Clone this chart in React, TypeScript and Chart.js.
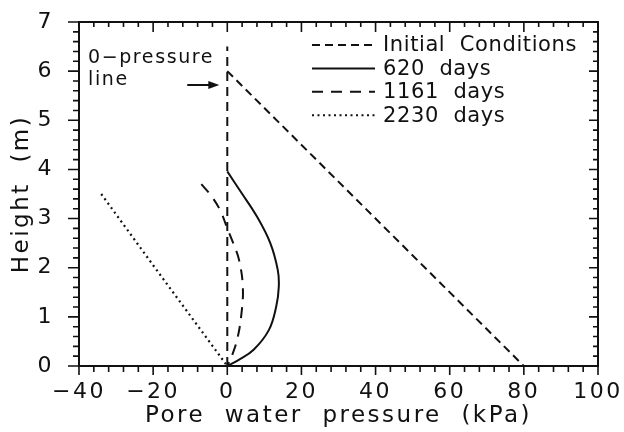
import React, { useEffect, useRef } from "react";
import { Chart, registerables } from "chart.js";

Chart.register(...registerables);

// ---- data ----
const seriesLabels = ["Initial Conditions", "620 days", "1161 days", "2230 days"];

const initialX = [0, 80, 0];
const initialY = [6, 0, 0];

const d620X = [0, 3.5, 8.0, 11.6, 13.6, 13.9, 13.2, 11.2, 7.1, 3.0, 0];
const d620Y = [3.96, 3.56, 3.04, 2.5, 1.96, 1.62, 1.21, 0.73, 0.33, 0.12, 0];

const d1161X = [-7, -4.2, -1.8, 0, 1.6, 3.2, 4.2, 3.8, 2.7, 1.2, 0];
const d1161Y = [3.7, 3.45, 3.15, 2.8, 2.5, 2.15, 1.6, 1.05, 0.55, 0.2, 0];

const d2230X = [-34, -20, 0];
const d2230Y = [3.5, 2.05, 0];

const zeroLineX = [0, 0];
const zeroLineY = [0, 6.5];

const xMin = -40, xMax = 100, xMajor = 20, xMinor = 4;
const yMin = 0, yMax = 7, yMajor = 1, yMinor = 0.2;

const FONT = "'DejaVu Sans', sans-serif";
const INK = "#111";

const pts = (xs: number[], ys: number[]) => xs.map((x, i) => ({ x, y: ys[i] }));

const dashes = [[8, 5], [], [11, 8], [2, 3.5]];

const framePlugin = {
  id: "frameTicks",
  beforeDraw(chart: any) {
    chart.ctx.letterSpacing = "2.5px";
  },
  afterDraw(chart: any) {
    const ctx = chart.ctx as CanvasRenderingContext2D;
    const { left, right, top, bottom } = chart.chartArea;
    const xs = chart.scales.x;
    const ys = chart.scales.y;
    ctx.save();
    (ctx as any).letterSpacing = "0px";
    ctx.strokeStyle = INK;
    ctx.lineWidth = 2;
    ctx.setLineDash([]);
    ctx.strokeRect(left, top, right - left, bottom - top);
    ctx.lineWidth = 1.6;
    ctx.beginPath();
    const nx = Math.round((xMax - xMin) / xMinor);
    for (let i = 0; i <= nx; i++) {
      const v = xMin + i * xMinor;
      const major = Math.abs(v / xMajor - Math.round(v / xMajor)) < 1e-6;
      const p = xs.getPixelForValue(v);
      ctx.moveTo(p, bottom);
      ctx.lineTo(p, bottom + (major ? 9 : 6));
      ctx.moveTo(p, top);
      ctx.lineTo(p, top + (major ? 10 : 5));
    }
    const ny = Math.round((yMax - yMin) / yMinor);
    for (let i = 0; i <= ny; i++) {
      const v = yMin + i * yMinor;
      const major = Math.abs(v / yMajor - Math.round(v / yMajor)) < 1e-6;
      const p = ys.getPixelForValue(v);
      ctx.moveTo(left, p);
      ctx.lineTo(left - (major ? 11 : 6), p);
      ctx.moveTo(right, p);
      ctx.lineTo(right - (major ? 9 : 5), p);
    }
    ctx.stroke();

    // legend
    ctx.fillStyle = INK;
    ctx.font = `21px ${FONT}`;
    (ctx as any).letterSpacing = "0.6px";
    ctx.textBaseline = "middle";
    ctx.textAlign = "left";
    for (let i = 0; i < seriesLabels.length; i++) {
      const ds = chart.data.datasets[i];
      const y = top + 23 + i * 23.4;
      ctx.beginPath();
      ctx.lineWidth = 2;
      ctx.setLineDash(ds.borderDash || []);
      ctx.moveTo(right - 286, y);
      ctx.lineTo(right - 223, y);
      ctx.stroke();
      ctx.setLineDash([]);
      ctx.fillText(seriesLabels[i].replace(" ", "  "), right - 215, y + 1);
    }

    // annotation
    const x0 = xs.getPixelForValue(0);
    ctx.font = `19px ${FONT}`;
    (ctx as any).letterSpacing = "1.6px";
    ctx.fillText("0\u2212pressure", left + 9, top + 36);
    ctx.fillText("line", left + 9, top + 58);
    const ay = top + 63;
    ctx.beginPath();
    ctx.lineWidth = 2;
    ctx.moveTo(x0 - 40, ay);
    ctx.lineTo(x0 - 16, ay);
    ctx.stroke();
    ctx.beginPath();
    ctx.moveTo(x0 - 8, ay);
    ctx.lineTo(x0 - 19, ay - 4);
    ctx.lineTo(x0 - 19, ay + 4);
    ctx.closePath();
    ctx.fill();
    ctx.restore();
  },
};

const noEdgePad = (s: any) => {
  s.paddingTop = 0;
  s.paddingBottom = 0;
  s.paddingLeft = 0;
  s.paddingRight = 0;
};

export default function App() {
  const ref = useRef<HTMLCanvasElement>(null);
  useEffect(() => {
    if (!ref.current) return;
    const line = (label: string, data: any[], dash: number[]) => ({
      label,
      data,
      showLine: true,
      borderColor: INK,
      backgroundColor: INK,
      borderWidth: 2,
      borderDash: dash,
      pointRadius: 0,
      tension: 0,
      fill: false,
    });
    const chart = new Chart(ref.current, {
      type: "scatter",
      data: {
        datasets: [
          line(seriesLabels[0], pts(initialX, initialY), dashes[0]),
          { ...line(seriesLabels[1], pts(d620X, d620Y), dashes[1]), tension: 0.4 },
          { ...line(seriesLabels[2], pts(d1161X, d1161Y), dashes[2]), tension: 0.4 },
          { ...line(seriesLabels[3], pts(d2230X, d2230Y), dashes[3]), borderWidth: 2.2 },
          line("0-pressure line", pts(zeroLineX, zeroLineY), [9, 6]),
        ],
      },
      options: {
        animation: false,
        responsive: false,
        maintainAspectRatio: false,
        layout: { padding: { left: 0, right: 26, top: 22, bottom: 0 } },
        plugins: { legend: { display: false }, tooltip: { enabled: false } },
        scales: {
          x: {
            type: "linear",
            position: "bottom",
            min: xMin,
            max: xMax,
            afterFit: (s: any) => { s.height = 66; noEdgePad(s); },
            grid: { display: false, drawTicks: false },
            border: { display: false },
            ticks: {
              stepSize: xMajor,
              padding: 13,
              color: INK,
              font: { family: FONT, size: 22 },
              maxRotation: 0,
              callback: (v: any) => String(v).replace("-", "\u2212"),
            },
            title: {
              display: true,
              text: "Pore  water  pressure  (kPa)",
              color: INK,
              font: { family: FONT, size: 23 },
              padding: { top: 0, bottom: 2 },
            },
          },
          y: {
            type: "linear",
            min: yMin,
            max: yMax,
            afterFit: (s: any) => { s.width = 79; noEdgePad(s); },
            grid: { display: false, drawTicks: false },
            border: { display: false },
            ticks: {
              stepSize: yMajor,
              padding: 25,
              color: INK,
              font: { family: FONT, size: 22 },
            },
            title: {
              display: true,
              text: "Height  (m)",
              color: INK,
              font: { family: FONT, size: 23 },
              padding: { top: 8, bottom: 0 },
            },
          },
        },
      },
      plugins: [framePlugin],
    });
    return () => chart.destroy();
  }, []);
  return (
    <div style={{ position: "absolute", left: 0, top: 0, width: 624, height: 432, background: "#fff" }}>
      <canvas ref={ref} width={624} height={432} style={{ display: "block" }} />
    </div>
  );
}
